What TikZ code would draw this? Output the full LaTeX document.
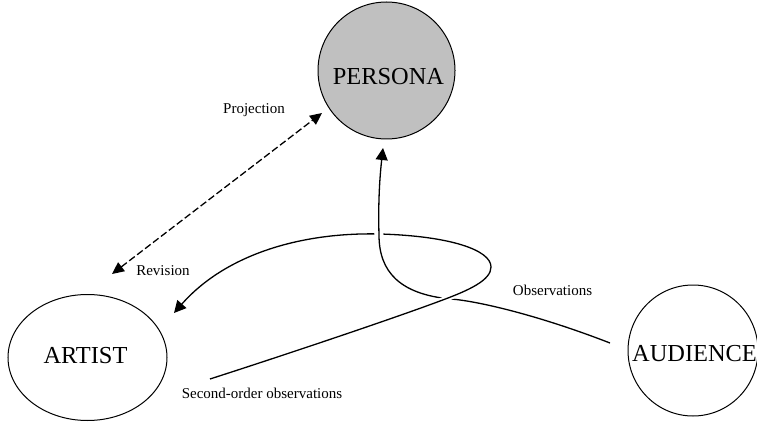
\documentclass[tikz,border=0pt]{standalone}
\usepackage{fontspec}
\setmainfont{Liberation Serif}
\usetikzlibrary{shapes.geometric,arrows.meta}
\definecolor{personagray}{RGB}{192,192,192}
\begin{document}
\begin{tikzpicture}[x=1pt,y=-1pt,
  bubble/.style={ellipse,draw=black,line width=1pt,inner sep=0pt},
  bigtext/.style={font=\fontsize{24.4}{26}\selectfont,inner sep=0pt,anchor=base},
  smalltext/.style={font=\fontsize{15}{17}\selectfont,inner sep=0pt,anchor=base},
  conn/.style={line width=1.3pt,draw=black},
  tip/.style={-{Triangle[length=12pt,width=12pt]}},
  halo/.style={preaction={draw=white,line width=#1}},
]
\useasboundingbox (0,0) rectangle (757,422);

% bubbles
\node[bubble,fill=personagray,minimum width=137pt,minimum height=137pt] (persona) at (386.5,70.5) {};
\node[bubble,minimum width=159pt,minimum height=126pt] (artist) at (87.5,357.5) {};
\node[bubble,minimum width=130pt,minimum height=131pt] (audience) at (693,350.5) {};
\node[bigtext] (personaT) at (388.5,85) {PERSONA};
\node[bigtext] (artistT) at (85.5,363) {ARTIST};
\node[bigtext] (audienceT) at (694.5,361) {AUDIENCE};

% labels
\node[smalltext] (projL) at (254,114) {Projection};
\node[smalltext] (revL) at (163,275) {Revision};
\node[smalltext] (obsL) at (552.5,295) {Observations};
\node[smalltext] (soL) at (262,398) {Second-order observations};

% connector end points
\coordinate (projA) at (112,274);
\coordinate (projB) at (322,113);
\coordinate (obsStart) at (610,343);
\coordinate (obsTip) at (383,148);
\coordinate (soStart) at (210,379);
\coordinate (soTurn) at (491,267);
\coordinate (soTop) at (380,234);
\coordinate (revTip) at (174,313);

% projection / revision (dashed, two-headed)
\draw[conn,dash pattern=on 7pt off 3pt,{Triangle[length=12pt,width=11pt]}-{Triangle[length=12pt,width=11pt]}] (projA) -- (projB);

% second-order observations looping into revision
\draw[conn,tip] (soStart) .. controls (300,350) and (400,316) .. (440,301)
  .. controls (470,290) and (491,280) .. (soTurn)
  .. controls (491,250) and (450,236) .. (soTop)
  .. controls (300,232) and (225,255) .. (revTip);

% observations (passes over the loop top)
\draw[conn,tip,halo=9pt] (obsStart) .. controls (530,312) and (470,300) .. (450,299)
  .. controls (400,294) and (379,272) .. (379,235)
  .. controls (378,200) and (380,175) .. (obsTip);

% lower part of second-order line passes over observations
\draw[conn,halo=5.5pt] (soStart) .. controls (300,350) and (400,316) .. (440,301)
  .. controls (470,290) and (491,280) .. (soTurn);
\end{tikzpicture}
\end{document}
